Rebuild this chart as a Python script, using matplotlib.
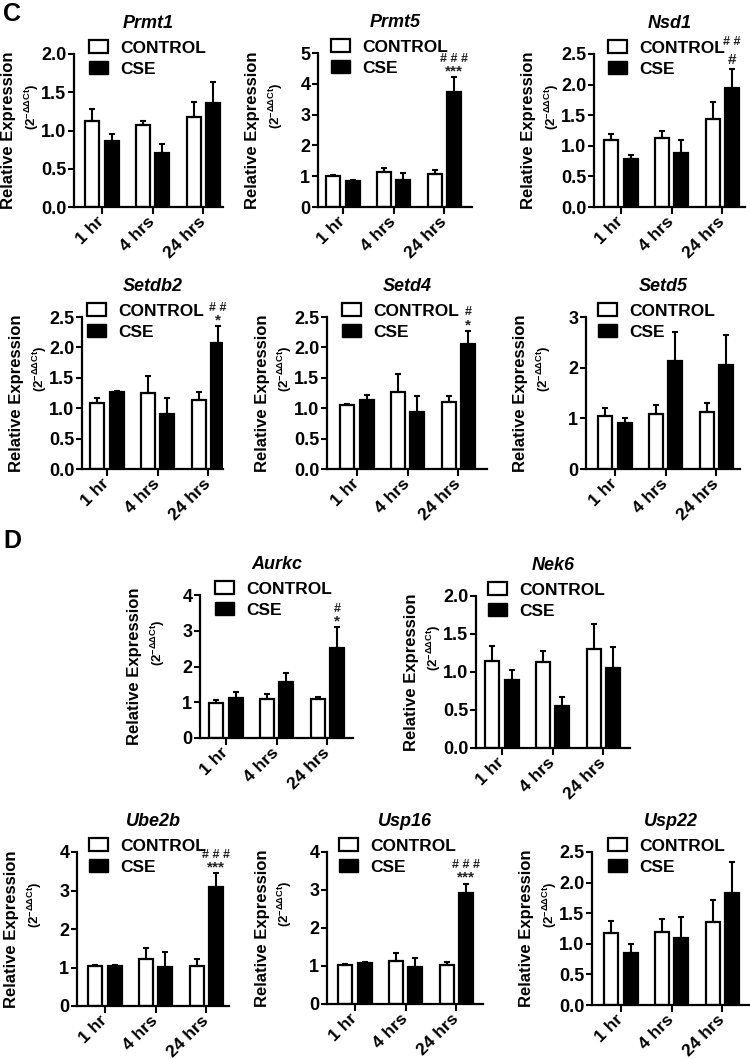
import numpy as np
import matplotlib
matplotlib.use('Agg')
import matplotlib.pyplot as plt
from matplotlib.patches import Patch

plt.rcParams['font.family'] = ['Liberation Sans', 'DejaVu Sans']
plt.rcParams['font.weight'] = 'bold'
plt.rcParams['mathtext.fontset'] = 'custom'
plt.rcParams['mathtext.rm'] = 'Liberation Sans:bold'
plt.rcParams['mathtext.it'] = 'Liberation Sans:bold'
plt.rcParams['mathtext.bf'] = 'Liberation Sans:bold'

# data
genes = ['Prmt1', 'Prmt5', 'Nsd1', 'Setdb2', 'Setd4', 'Setd5',
         'Aurkc', 'Nek6', 'Ube2b', 'Usp16', 'Usp22']
times = ['1 hr', '4 hrs', '24 hrs']
ctrl = [[1.12, 1.07, 1.17], [1.02, 1.13, 1.08], [1.10, 1.12, 1.43],
        [1.08, 1.25, 1.13], [1.05, 1.27, 1.10], [1.05, 1.09, 1.12],
        [0.97, 1.09, 1.09], [1.15, 1.13, 1.30], [1.03, 1.21, 1.05],
        [1.02, 1.14, 1.03], [1.17, 1.20, 1.35]]
ctrl_err = [[0.16, 0.06, 0.20], [0.03, 0.15, 0.12], [0.10, 0.13, 0.29],
            [0.09, 0.28, 0.13], [0.02, 0.29, 0.10], [0.16, 0.17, 0.19],
            [0.09, 0.14, 0.06], [0.19, 0.14, 0.33], [0.04, 0.30, 0.18],
            [0.03, 0.19, 0.08], [0.20, 0.21, 0.37]]
cse = [[0.86, 0.71, 1.36], [0.84, 0.87, 3.73], [0.79, 0.89, 1.95],
       [1.27, 0.90, 2.08], [1.13, 0.93, 2.05], [0.91, 2.14, 2.06],
       [1.13, 1.57, 2.53], [0.89, 0.55, 1.05], [1.03, 1.02, 3.10],
       [1.07, 0.97, 2.93], [0.85, 1.10, 1.83]]
cse_err = [[0.10, 0.12, 0.27], [0.03, 0.22, 0.48], [0.06, 0.20, 0.30],
           [0.02, 0.26, 0.27], [0.08, 0.27, 0.22], [0.09, 0.56, 0.59],
           [0.17, 0.24, 0.57], [0.13, 0.12, 0.28], [0.03, 0.38, 0.35],
           [0.03, 0.23, 0.24], [0.14, 0.33, 0.50]]
yticks = [[0, 0.5, 1.0, 1.5, 2.0], [0, 1, 2, 3, 4, 5], [0, 0.5, 1.0, 1.5, 2.0, 2.5],
          [0, 0.5, 1.0, 1.5, 2.0, 2.5], [0, 0.5, 1.0, 1.5, 2.0, 2.5], [0, 1, 2, 3],
          [0, 1, 2, 3, 4], [0, 0.5, 1.0, 1.5, 2.0], [0, 1, 2, 3, 4],
          [0, 1, 2, 3, 4], [0, 0.5, 1.0, 1.5, 2.0, 2.5]]
marks = {'Prmt5': ('# # #', '***'), 'Nsd1': ('# #', '#'), 'Setdb2': ('# #', '*'),
         'Setd4': ('#', '*'), 'Aurkc': ('#', '*'), 'Ube2b': ('# # #', '***'),
         'Usp16': ('# # #', '***')}

# layout in pixels: left, top, right, bottom of each axes, x of first tick,
# legend offset from the y axis
W, H = 750, 1059
boxes = [(74, 54, 223, 207), (318, 53, 472, 207), (594, 54, 745, 207),
         (82, 317, 223, 469), (327, 317, 487, 469), (586, 317, 740, 469),
         (200, 595, 353, 738), (476, 596, 630, 748),
         (77, 852, 229, 1006), (327, 852, 483, 1004), (592, 852, 750, 1005)]
first_tick = [102, 343, 621, 107, 357, 615, 226, 502, 105, 355, 621]
leg_dx = [15, 13, 14, 5, 15, 12, 15, 12, 12, 12, 16]
step = 50.7

fig = plt.figure(figsize=(7.5, 10.59), dpi=100)
x = np.arange(3)
ekw = dict(ecolor='black', elinewidth=1.5, capsize=2.5, capthick=1.5)

for i, g in enumerate(genes):
    l, t, r, b = boxes[i]
    ax = fig.add_axes([l / W, 1 - b / H, (r - l) / W, (b - t) / H])
    ax.bar(x - 0.19, ctrl[i], 0.28, color='white', edgecolor='black', linewidth=1.6,
           yerr=[[0] * 3, ctrl_err[i]], error_kw=ekw, zorder=2)
    ax.bar(x + 0.19, cse[i], 0.28, color='black', edgecolor='black', linewidth=1.6,
           yerr=[[0] * 3, cse_err[i]], error_kw=ekw, zorder=2)
    ax.set_xlim((l - first_tick[i]) / step, (r - first_tick[i]) / step)
    ax.set_ylim(0, yticks[i][-1])
    ax.set_yticks(yticks[i])
    if isinstance(yticks[i][1], float):
        ax.set_yticklabels(['%.1f' % v for v in yticks[i]])
    ax.set_xticks(x)
    ax.set_xticklabels(times, rotation=45, ha='right', va='center',
                       rotation_mode='anchor')
    ax.tick_params(axis='y', labelsize=13, width=1.5, length=4, pad=1.5, direction='out')
    ax.tick_params(axis='x', labelsize=12.5, width=1.5, length=5, pad=4, direction='out')
    for s in ['top', 'right']:
        ax.spines[s].set_visible(False)
    for s in ['left', 'bottom']:
        ax.spines[s].set_linewidth(1.6)
    ax.set_title(g, fontsize=13, fontweight='bold', fontstyle='italic', pad=19)

    yc = 1 - (t + b) / 2 / H
    fig.text((l - 65) / W, yc, 'Relative Expression', rotation=90, fontsize=12,
             ha='center', va='center')
    fig.text((l - 42) / W, yc + 24 / H, r'(2$^{-\Delta\Delta Ct}$)', rotation=90,
             fontsize=9.5, ha='center', va='center')

    fig.legend(handles=[Patch(facecolor='white', edgecolor='black', linewidth=1.6, label='CONTROL'),
                        Patch(facecolor='black', edgecolor='black', label='CSE')],
               loc='upper left', bbox_to_anchor=((l + leg_dx[i]) / W, 1 - (t - 14) / H),
               bbox_transform=fig.transFigure, frameon=False, fontsize=12.5,
               handlelength=1.1, handleheight=0.8, handletextpad=0.7,
               labelspacing=0.3, borderpad=0, borderaxespad=0)

    if g in marks:
        top = cse[i][2] + cse_err[i][2]
        upper, lower = marks[g]
        if lower.startswith('*'):
            low_off, up_off = -1, 9
        else:
            low_off, up_off = 2, 15
        ax.annotate(lower, (2.19, top), xytext=(0, low_off), textcoords='offset points',
                    ha='center', va='bottom', fontsize=11, color='#222222',
                    annotation_clip=False)
        ax.annotate(upper, (2.19, top), xytext=(0, up_off), textcoords='offset points',
                    ha='center', va='bottom', fontsize=9, color='#222222',
                    annotation_clip=False)

fig.text(3 / W, 1 - 2 / H, 'C', fontsize=18, ha='left', va='top')
fig.text(3 / W, 1 - 529 / H, 'D', fontsize=18, ha='left', va='top')

fig.savefig('out.png', dpi=100)
